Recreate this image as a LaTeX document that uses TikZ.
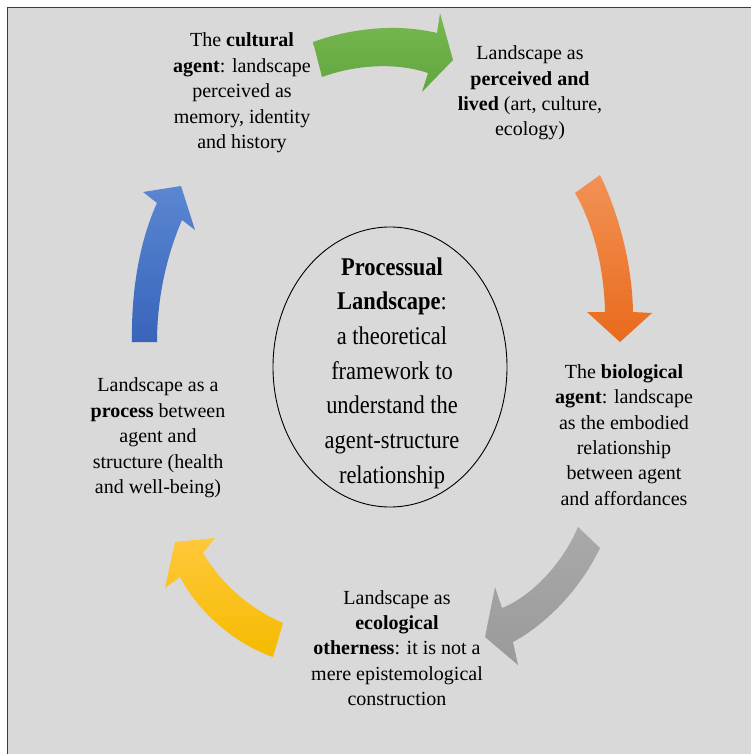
\documentclass[tikz,border=0pt]{standalone}
\usepackage{fontspec}
\setmainfont{Liberation Serif}
\newfontfamily\ctrfont[FakeStretch=0.88]{Liberation Serif}
\usetikzlibrary{shapes.geometric}
\definecolor{bgcol}{HTML}{D9D9D9}
\definecolor{framecol}{HTML}{3C3C3C}
\definecolor{gtop}{HTML}{78B84F}
\definecolor{gbot}{HTML}{62A53F}
\definecolor{otop}{HTML}{F29255}
\definecolor{obot}{HTML}{E96A1C}
\definecolor{grtop}{HTML}{A9A9A9}
\definecolor{grbot}{HTML}{9A9A9A}
\definecolor{ytop}{HTML}{FFC83A}
\definecolor{ybot}{HTML}{F5BB00}
\definecolor{btop}{HTML}{5A86D2}
\definecolor{bbot}{HTML}{3865BA}
\tikzset{
  outertext/.style={align=center, inner sep=0pt, font=\fontsize{20}{25.4}\selectfont, text=black},
  centertext/.style={align=center, inner sep=0pt, font=\ctrfont\fontsize{25.5}{34.7}\selectfont, text=black},
  arrgreen/.style={top color=gtop, bottom color=gbot, draw=none},
  arrorange/.style={top color=otop, bottom color=obot, draw=none},
  arrgray/.style={top color=grtop, bottom color=grbot, draw=none},
  arryellow/.style={top color=ytop, bottom color=ybot, draw=none},
  arrblue/.style={top color=btop, bottom color=bbot, draw=none},
}
\begin{document}
\begin{tikzpicture}[x=1pt,y=-1pt]
\useasboundingbox (0,0) rectangle (751,754);
\fill[white] (0,0) rectangle (751,754);
\fill[bgcol] (7.3,7.3) rectangle (760,760);
\draw[framecol, line width=1.5pt] (7.3,760) -- (7.3,7.3) -- (760,7.3);

% green arrow (top)
\shade[arrgreen] (313,42) .. controls (355,27) and (400,24) .. (437,33)
  -- (440,13) -- (453,60) -- (422,92) -- (428,73)
  .. controls (395,62) and (355,65) .. (322,77) -- cycle;
% orange arrow (right)
\shade[arrorange] (600,175) .. controls (617,210) and (632,260) .. (633,312)
  -- (652,313) -- (620,342) -- (587,312) -- (605,312)
  .. controls (604,265) and (592,222) .. (575,193) -- cycle;
% gray arrow (bottom right)
\shade[arrgray] (600,548) .. controls (580,590) and (545,625) .. (513,642)
  -- (518,665) -- (485,637) -- (495,587) -- (502,608)
  .. controls (530,597) and (562,565) .. (578,527) -- cycle;
% yellow arrow (bottom left)
\shade[arryellow] (273,657) .. controls (238,645) and (200,615) .. (180,577)
  -- (165,588) -- (175,542) -- (215,538) -- (203,553)
  .. controls (222,585) and (252,610) .. (283,623) -- cycle;
% blue arrow (left)
\shade[arrblue] (132,342) .. controls (131,290) and (140,240) .. (157,203)
  -- (143,192) -- (181,186) -- (195,230) -- (182,220)
  .. controls (166,257) and (157,300) .. (157,342) -- cycle;

% central ellipse
\node[draw=black, line width=0.9pt, ellipse, minimum width=234pt, minimum height=280pt, inner sep=0pt] (core) at (390,367) {};
\node[centertext] (coretext) at (392,373) {\textbf{Processual}\\\textbf{Landscape}:\\a theoretical\\framework to\\understand the\\agent-structure\\relationship};

\node[outertext] (cultural) at (242,93) {The \textbf{cultural}\\\textbf{agent}: landscape\\perceived as\\memory, identity\\and history};
\node[outertext] (lived) at (530,93) {Landscape as\\\textbf{perceived and}\\\textbf{lived} (art, culture,\\ecology)};
\node[outertext] (biological) at (624,435) {The \textbf{biological}\\\textbf{agent}: landscape\\as the embodied\\relationship\\between agent\\and affordances};
\node[outertext] (process) at (158,438) {Landscape as a\\\textbf{process} between\\agent and\\structure (health\\and well-being)};
\node[outertext] (otherness) at (397,648) {Landscape as\\\textbf{ecological}\\\textbf{otherness}: it is not a\\mere epistemological\\construction};
\end{tikzpicture}
\end{document}
